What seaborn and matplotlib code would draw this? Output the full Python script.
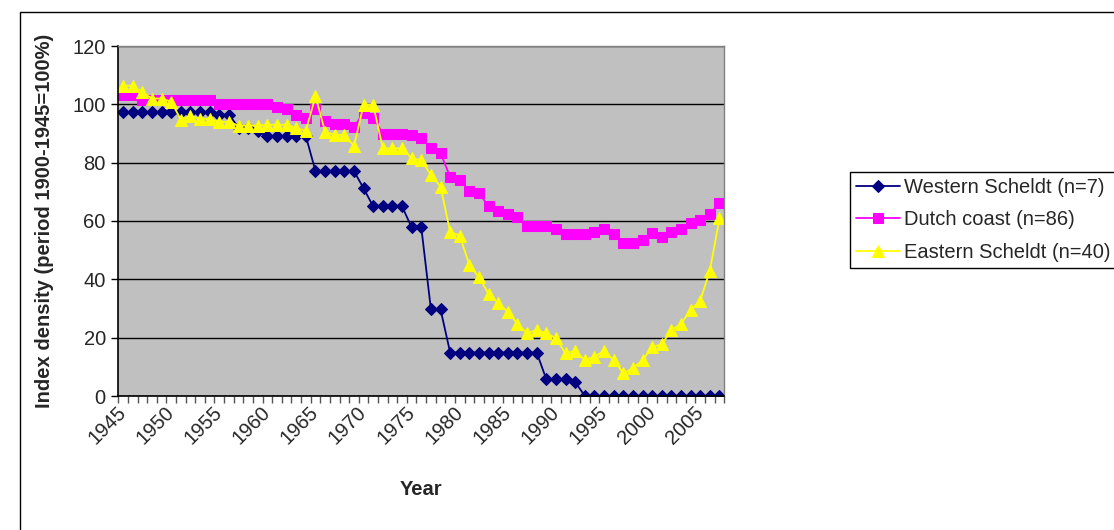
import matplotlib
matplotlib.use("Agg")
import matplotlib.pyplot as plt
import matplotlib.transforms as mtransforms
from matplotlib.patches import Rectangle
import numpy as np
import pandas as pd
import seaborn as sns

# years on the category axis
years = list(range(1945, 2008))

# index density per area (period 1900-1945 = 100%)
western_scheldt = [97.3, 97.3, 97.3, 97.3, 97.3, 97.3, 97.3, 97.3, 97.3, 97.3,
                   96.5, 96.5, 92.0, 92.0, 90.8, 89.1, 89.1, 89.1, 89.1, 89.1,
                   77.1, 77.1, 77.1, 77.1, 77.1, 71.2, 65.0, 65.0, 65.0, 65.0,
                   57.8, 57.8, 29.7, 29.7, 14.9, 14.9, 14.9, 14.9, 14.9, 14.9,
                   14.9, 14.9, 14.9, 14.9, 5.7, 5.7, 5.7, 4.8, 0, 0,
                   0, 0, 0, 0, 0, 0, 0, 0, 0, 0,
                   0, 0, 0]
dutch_coast = [103.2, 103.2, 101.5, 101.5, 101.5, 101.5, 101.5, 101.5, 101.5, 101.5,
               100.2, 100.2, 100.2, 100.2, 100.2, 100.2, 99.0, 98.5, 96.5, 95.3,
               98.4, 94.4, 93.2, 93.2, 92.1, 97.2, 95.4, 90.0, 90.0, 90.0,
               89.5, 88.5, 85.2, 83.2, 75.2, 74.0, 70.4, 69.5, 65.1, 63.5,
               62.4, 61.3, 58.3, 58.3, 58.3, 57.1, 55.5, 55.5, 55.5, 56.1,
               57.1, 55.5, 52.3, 52.3, 53.5, 55.8, 54.4, 56.1, 57.1, 59.2,
               60.3, 62.4, 66.1]
eastern_scheldt = [106.4, 106.4, 104.1, 102.0, 102.0, 100.9, 94.8, 96.0, 95.0, 95.0,
                   94.0, 94.0, 92.7, 92.7, 92.7, 93.0, 93.0, 93.0, 91.8, 91.0,
                   102.8, 90.6, 89.5, 89.5, 85.7, 99.8, 99.8, 84.9, 84.9, 84.9,
                   81.5, 80.9, 75.8, 71.8, 56.3, 54.9, 44.9, 40.7, 35.0, 31.8,
                   28.9, 24.7, 21.5, 22.6, 21.5, 19.8, 14.6, 15.5, 12.3, 13.5,
                   15.5, 12.3, 7.8, 9.5, 12.3, 16.7, 17.8, 22.6, 24.7, 29.5,
                   32.7, 43.0, 60.9]

series_names = ["Western Scheldt (n=7)", "Dutch coast (n=86)", "Eastern Scheldt (n=40)"]
series_values = [western_scheldt, dutch_coast, eastern_scheldt]
colors = ["#000080", "#FF00FF", "#FFFF00"]
markers = ["D", "s", "^"]
marker_sizes = [6, 7, 8.5]


def main():
    sns.set_theme(style="white")
    plt.rcParams["font.family"] = ["Liberation Sans", "DejaVu Sans"]

    fig = plt.figure(figsize=(11.14, 5.30), dpi=100)
    W, H = 1114, 530
    ax = fig.add_axes([118.3 / W, 1 - 396 / H, (724.3 - 118.3) / W, (396 - 46) / H])
    ax.set_facecolor("#C0C0C0")

    # chart area frame (only left and top are visible in the reference)
    fig.patches.append(Rectangle((20 / W, -0.1), 1.2, 1 - 12 / H + 0.1,
                                 transform=fig.transFigure, fill=False,
                                 edgecolor="black", linewidth=1))

    pos = np.arange(len(years))
    for name, vals, c, m, ms in zip(series_names, series_values, colors, markers, marker_sizes):
        df = pd.DataFrame({"pos": pos, "value": vals})
        sns.lineplot(data=df, x="pos", y="value", ax=ax, color=c, marker=m,
                     markersize=ms, markeredgecolor=c, linewidth=1.3, label=name)

    ax.set_xlim(-0.5, len(years) - 0.5)
    ax.set_ylim(0, 120)

    # gridlines
    ax.set_yticks(range(0, 121, 20))
    ax.yaxis.grid(True, color="black", linewidth=1)
    ax.set_axisbelow(True)
    ax.tick_params(axis="y", which="major", direction="out", length=5, width=1,
                   color="black", labelsize=14.5, pad=4, left=True)

    # category labels every 5 years, tick marks on category borders
    ax.set_xticks(pos[::5])
    ax.set_xticklabels([str(y) for y in years[::5]], rotation=45, ha="right",
                       va="center", rotation_mode="anchor", fontsize=14.5)
    shift = mtransforms.ScaledTranslation(-10 / 100, -2 / 100, fig.dpi_scale_trans)
    for lbl in ax.get_xticklabels():
        lbl.set_transform(lbl.get_transform() + shift)
    ax.set_xticks(np.arange(-0.5, len(years)), minor=True)
    ax.tick_params(axis="x", which="major", length=0, pad=10)
    ax.tick_params(axis="x", which="minor", direction="out", length=5, width=1,
                   color="#555555", bottom=True)

    for side in ["left", "bottom"]:
        ax.spines[side].set_color("black")
        ax.spines[side].set_linewidth(1.2)
    for side in ["right", "top"]:
        ax.spines[side].set_color("#808080")
        ax.spines[side].set_linewidth(1)

    ax.set_xlabel("Year", fontsize=14.5, fontweight="bold", labelpad=23)
    ax.set_ylabel("Index density (period 1900-1945=100%)", fontsize=14.5,
                  fontweight="bold", labelpad=13)

    leg = ax.legend(loc="upper left", bbox_to_anchor=(850 / W, 1 - 172 / H),
                    bbox_transform=fig.transFigure, fontsize=14.5, frameon=True,
                    fancybox=False, edgecolor="black", framealpha=1,
                    handlelength=2.2, handletextpad=0.2, labelspacing=0.66,
                    borderpad=0.3, borderaxespad=0)
    leg.get_frame().set_linewidth(1)

    plt.savefig("out.png", dpi=100)


if __name__ == '__main__':
    main()
